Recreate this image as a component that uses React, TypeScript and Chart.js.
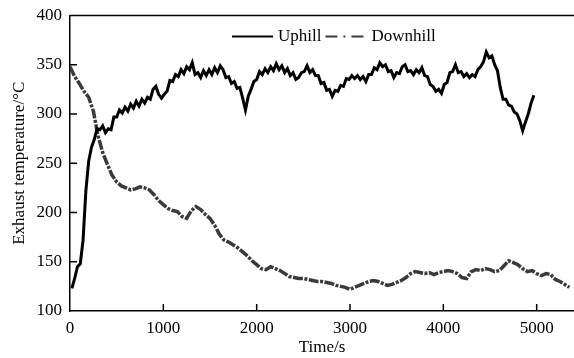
import React, { useEffect, useRef } from "react";
import { Chart, registerables } from "chart.js";

Chart.register(...registerables);

// Sampling of the two series (seconds)
const UPHILL_START = 20;
const UPHILL_STEP = 30;
const DOWNHILL_START = 0;
const DOWNHILL_STEP = 50;

const seriesLabels = ["Uphill", "Downhill"];

// Exhaust temperature, uphill run (°C)
const uphillTemp = [
  123, 133, 145, 148, 172, 222, 252, 266, 274, 285,
  284, 288, 281, 285, 284, 297, 297, 304, 301, 307,
  303, 310, 306, 313, 308, 315, 311, 317, 315, 325,
  328, 320, 316, 320, 323, 334, 333, 340, 338, 345,
  341, 348, 345, 352, 340, 342, 337, 344, 339, 345,
  340, 347, 342, 349, 345, 337, 338, 331, 333, 326,
  327, 316, 304, 318, 325, 333, 335, 343, 340, 346,
  342, 348, 344, 351, 345, 349, 342, 346, 339, 342,
  335, 337, 342, 343, 349, 342, 345, 339, 339, 331,
  332, 324, 325, 318, 324, 323, 329, 328, 336, 335,
  339, 336, 339, 335, 338, 333, 340, 340, 347, 345,
  352, 348, 350, 343, 344, 337, 342, 341, 348, 350,
  343, 344, 340, 345, 342, 347, 339, 338, 330, 328,
  323, 325, 321, 330, 332, 342, 343, 350, 342, 343,
  338, 341, 337, 340, 338, 345, 348, 353, 363, 357,
  359, 350, 344, 327, 315, 315, 309, 308, 302, 300,
  293, 283, 292, 300, 311, 319,
];

// Exhaust temperature, downhill run (°C)
const downhillTemp = [
  348, 338, 331, 323, 317, 303, 278, 261, 249, 238,
  231, 227, 225, 223, 224, 226, 225, 223, 218, 212,
  208, 204, 202, 201, 196, 194, 202, 206, 203, 198,
  194, 187, 178, 172, 170, 167, 164, 160, 156, 151,
  147, 143, 142, 145, 143, 141, 138, 135, 134, 133,
  133, 132, 131, 130, 130, 129, 128, 126, 125, 124,
  122, 124, 126, 128, 130, 131, 130, 128, 126, 127,
  129, 131, 134, 138, 140, 139, 138, 139, 137, 139,
  140, 141, 140, 138, 134, 133, 140, 142, 141, 143,
  142, 140, 141, 146, 151, 149, 147, 143, 140, 141,
  138, 136, 138, 137, 132, 130, 127, 124,
];

const X_MIN = 0;
const X_MAX = 5400;
const xTickValues = [0, 1000, 2000, 3000, 4000, 5000];
const Y_MIN = 100;
const Y_MAX = 400;
const yTickValues = [100, 150, 200, 250, 300, 350, 400];

const xTitle = "Time/s";
const yTitle = "Exhaust temperature/°C";

const FONT = "Liberation Serif, DejaVu Serif, serif";
const legendDashes = [[], [12, 6, 2, 6]];

const framePlugin = {
  id: "frameAndTicks",
  afterDraw(chart: any) {
    const { ctx, chartArea, scales } = chart;
    const xs = scales.x;
    const ys = scales.y;
    ctx.save();
    ctx.strokeStyle = "#000";
    ctx.lineWidth = 1.5;
    ctx.beginPath();
    ctx.moveTo(chartArea.left, chartArea.top);
    ctx.lineTo(chartArea.right, chartArea.top);
    ctx.stroke();
    xs.ticks.forEach((t: any) => {
      const px = xs.getPixelForValue(t.value);
      if (px <= chartArea.left + 1) return;
      ctx.beginPath();
      ctx.moveTo(px, chartArea.bottom);
      ctx.lineTo(px, chartArea.bottom - 7);
      ctx.stroke();
    });
    ys.ticks.forEach((t: any) => {
      const py = ys.getPixelForValue(t.value);
      if (py >= chartArea.bottom - 1 || py <= chartArea.top + 1) return;
      ctx.beginPath();
      ctx.moveTo(chartArea.left, py);
      ctx.lineTo(chartArea.left + 7, py);
      ctx.stroke();
    });
    ctx.restore();
  },
};

const legendPlugin = {
  id: "inlineLegend",
  afterDraw(chart: any) {
    const { ctx, chartArea } = chart;
    ctx.save();
    ctx.font = `17px ${FONT}`;
    ctx.textBaseline = "middle";
    ctx.textAlign = "left";
    const y = chartArea.top + 21;
    let x = chartArea.left + 162;
    chart.data.datasets.forEach((ds: any, i: number) => {
      ctx.beginPath();
      ctx.strokeStyle = ds.borderColor;
      ctx.lineWidth = 2;
      ctx.setLineDash(legendDashes[i] || []);
      ctx.moveTo(x, y);
      ctx.lineTo(x + 41, y);
      ctx.stroke();
      ctx.setLineDash([]);
      ctx.fillStyle = "#000";
      ctx.fillText(ds.label, x + 46, y);
      x += 46 + ctx.measureText(ds.label).width + 4;
    });
    ctx.restore();
  },
};

export default function App() {
  const canvasRef = useRef<HTMLCanvasElement | null>(null);

  useEffect(() => {
    if (!canvasRef.current) return;
    let chart: Chart | null = null;
    let cancelled = false;

    const build = () => {
      if (cancelled || !canvasRef.current) return;
      const uphillPoints = uphillTemp.map((v, i) => ({ x: UPHILL_START + i * UPHILL_STEP, y: v }));
      const downhillPoints = downhillTemp.map((v, i) => ({ x: DOWNHILL_START + i * DOWNHILL_STEP, y: v }));

      chart = new Chart(canvasRef.current, {
        type: "line",
        data: {
          datasets: [
            {
              label: seriesLabels[0],
              data: uphillPoints,
              borderColor: "#000000",
              borderWidth: 3,
              pointRadius: 0,
              tension: 0,
              fill: false,
            },
            {
              label: seriesLabels[1],
              data: downhillPoints,
              borderColor: "#3a3a3a",
              borderWidth: 3.5,
              borderDash: [10, 1.5, 3, 1.5],
              pointRadius: 0,
              tension: 0,
              fill: false,
            },
          ],
        },
        options: {
          responsive: false,
          animation: false,
          devicePixelRatio: 1,
          layout: { padding: { top: 15.5, right: 0, left: 0, bottom: 0 } },
          plugins: {
            legend: { display: false },
            tooltip: { enabled: false },
          },
          scales: {
            x: {
              type: "linear",
              min: X_MIN,
              max: X_MAX,
              afterBuildTicks(scale: any) {
                scale.ticks = xTickValues.map((v) => ({ value: v }));
              },
              ticks: {
                color: "#000",
                font: { family: FONT, size: 17 },
                padding: 7,
                maxRotation: 0,
                autoSkip: false,
                callback: (v: any) => String(v),
              },
              grid: { display: false, drawTicks: false },
              border: { display: true, color: "#000", width: 1.5 },
              title: {
                display: true,
                text: xTitle,
                color: "#000",
                font: { family: FONT, size: 17 },
                padding: { top: 0, bottom: 0 },
              },
              afterFit(scale: any) {
                scale.height = 47;
                scale.paddingLeft = 0;
                scale.paddingRight = 0;
              },
            },
            y: {
              type: "linear",
              min: Y_MIN,
              max: Y_MAX,
              afterBuildTicks(scale: any) {
                scale.ticks = yTickValues.map((v) => ({ value: v }));
              },
              ticks: {
                color: "#000",
                font: { family: FONT, size: 17 },
                padding: 8,
                autoSkip: false,
                callback: (v: any) => String(v),
              },
              grid: { display: false, drawTicks: false },
              border: { display: true, color: "#000", width: 1.5 },
              title: {
                display: true,
                text: yTitle,
                color: "#000",
                font: { family: FONT, size: 17 },
                padding: { top: 9, bottom: 0 },
              },
              afterFit(scale: any) {
                scale.width = 70;
                scale.paddingTop = 0;
                scale.paddingBottom = 0;
              },
            },
          },
        },
        plugins: [framePlugin, legendPlugin],
      });
    };

    const fontsApi: any = (document as any).fonts;
    if (fontsApi && fontsApi.load) {
      fontsApi
        .load("17px 'Liberation Serif'")
        .then(build, build);
    } else {
      build();
    }

    return () => {
      cancelled = true;
      if (chart) chart.destroy();
    };
  }, []);

  return (
    <div style={{ position: "fixed", left: 0, top: 0, width: 574, height: 358, background: "#fff" }}>
      <canvas ref={canvasRef} width={574} height={358} style={{ display: "block" }} />
    </div>
  );
}
